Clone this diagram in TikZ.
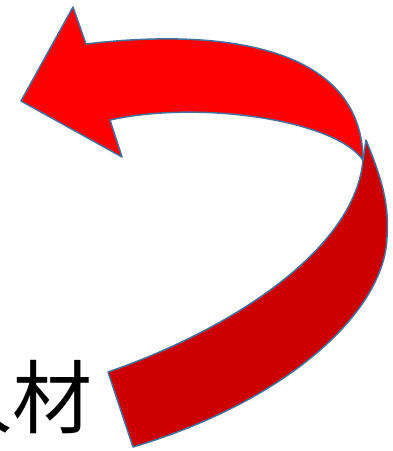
\documentclass[tikz,border=0pt]{standalone}
\usepackage{fontspec}
\newfontfamily\cjk{Noto Sans CJK JP}
\definecolor{edgeblue}{RGB}{65,113,156}
\definecolor{brightred}{RGB}{255,0,0}
\definecolor{darkred}{RGB}{204,0,0}
\tikzset{
  band/.style={draw=edgeblue, line width=1.5pt, line join=round},
  label/.style={inner sep=0pt, font=\cjk\fontsize{80}{80}\selectfont}
}
\begin{document}
\begin{tikzpicture}[x=1pt,y=-1pt]
\useasboundingbox (0,0) rectangle (392,451);
\node[label, anchor=base east] (t) at (93,427) {人材};
% lower dark band
\draw[band, fill=darkred]
  (363,160) -- (366,140)
  .. controls (378,170) and (390,200) .. (387,237)
  .. controls (385,310) and (290,400) .. (133,447)
  -- (108,372)
  .. controls (230,330) and (355,250) .. (363,160) -- cycle;
% upper bright band with head
\draw[band, fill=brightred]
  (21,101) -- (73,7) -- (86,44)
  .. controls (220,28) and (362,45) .. (363,160)
  .. controls (335,120) and (200,100) .. (110,120)
  -- (122,157) -- cycle;
\end{tikzpicture}
\end{document}
